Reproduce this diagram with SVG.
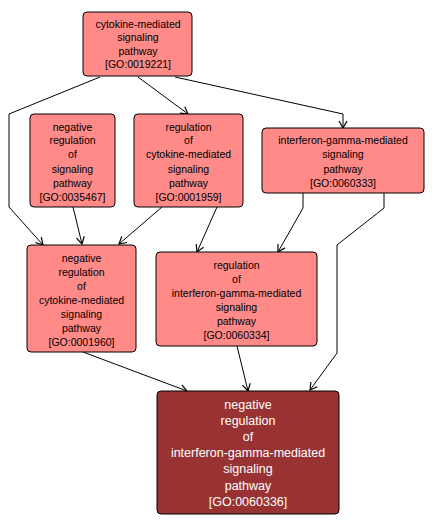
<svg xmlns="http://www.w3.org/2000/svg" width="434" height="526" viewBox="0 0 434 526">
<defs>
<marker id="arr" markerWidth="10" markerHeight="10" refX="8" refY="5" orient="auto" markerUnits="userSpaceOnUse">
<path d="M1,1 L8,5 L1,9" fill="none" stroke="#000" stroke-width="1.2"/>
</marker>
</defs>
<style>
.n rect{fill:#FF8A87;stroke:#000;stroke-width:1}
.d rect{fill:#993333;stroke:#000;stroke-width:1}
.n text{font-family:"Liberation Sans",Arial,sans-serif;font-size:10.5px;fill:#000;text-anchor:middle}
.d text{font-family:"Liberation Sans",Arial,sans-serif;font-size:12.5px;fill:#fff;text-anchor:middle}
.e{fill:none;stroke:#000;stroke-width:1;marker-end:url(#arr)}
</style>
<rect width="434" height="526" fill="#fff"/>
<g id="edges">
<polyline class="e" points="100,77 9,114 9,207 43,245"/>
<polyline class="e" points="138,77 188,114"/>
<polyline class="e" points="175,77 343,114 343,128"/>
<polyline class="e" points="73,207 82,244"/>
<polyline class="e" points="162,207 119,244"/>
<polyline class="e" points="217,207 197,252"/>
<polyline class="e" points="303,193 303,208 278,252"/>
<polyline class="e" points="384,193 384,208 337,245 337,353 310,390"/>
<polyline class="e" points="83,352 187,391"/>
<polyline class="e" points="237,346 248,391"/>
</g>
<g id="GO0019221" class="n">
<rect x="83" y="12" width="109" height="64" rx="4"/>
<text x="138" y="28">cytokine-mediated</text>
<text x="138" y="41">signaling</text>
<text x="138" y="55">pathway</text>
<text x="138" y="68">[GO:0019221]</text>
</g>
<g id="GO0035467" class="n">
<rect x="30" y="114" width="85" height="93" rx="4"/>
<text x="72.5" y="131">negative</text>
<text x="72.5" y="144">regulation</text>
<text x="72.5" y="158">of</text>
<text x="72.5" y="173">signaling</text>
<text x="72.5" y="187">pathway</text>
<text x="72.5" y="201">[GO:0035467]</text>
</g>
<g id="GO0001959" class="n">
<rect x="134" y="114" width="109" height="93" rx="4"/>
<text x="188.5" y="131">regulation</text>
<text x="188.5" y="144">of</text>
<text x="188.5" y="158">cytokine-mediated</text>
<text x="188.5" y="173">signaling</text>
<text x="188.5" y="187">pathway</text>
<text x="188.5" y="201">[GO:0001959]</text>
</g>
<g id="GO0060333" class="n">
<rect x="262" y="128" width="162" height="65" rx="4"/>
<text x="343" y="144">interferon-gamma-mediated</text>
<text x="343" y="158">signaling</text>
<text x="343" y="173">pathway</text>
<text x="343" y="187">[GO:0060333]</text>
</g>
<g id="GO0001960" class="n">
<rect x="27" y="245" width="109" height="107" rx="4"/>
<text x="81.5" y="262">negative</text>
<text x="81.5" y="276">regulation</text>
<text x="81.5" y="290">of</text>
<text x="81.5" y="304">cytokine-mediated</text>
<text x="81.5" y="318">signaling</text>
<text x="81.5" y="332">pathway</text>
<text x="81.5" y="346">[GO:0001960]</text>
</g>
<g id="GO0060334" class="n">
<rect x="156" y="252" width="161" height="94" rx="4"/>
<text x="236.5" y="269">regulation</text>
<text x="236.5" y="283">of</text>
<text x="236.5" y="297">interferon-gamma-mediated</text>
<text x="236.5" y="311">signaling</text>
<text x="236.5" y="325">pathway</text>
<text x="236.5" y="339">[GO:0060334]</text>
</g>
<g id="GO0060336" class="d">
<rect x="157" y="391" width="182" height="123" rx="4"/>
<text x="248" y="409">negative</text>
<text x="248" y="425">regulation</text>
<text x="248" y="441">of</text>
<text x="248" y="457">interferon-gamma-mediated</text>
<text x="248" y="473">signaling</text>
<text x="248" y="490">pathway</text>
<text x="248" y="506">[GO:0060336]</text>
</g>
</svg>
